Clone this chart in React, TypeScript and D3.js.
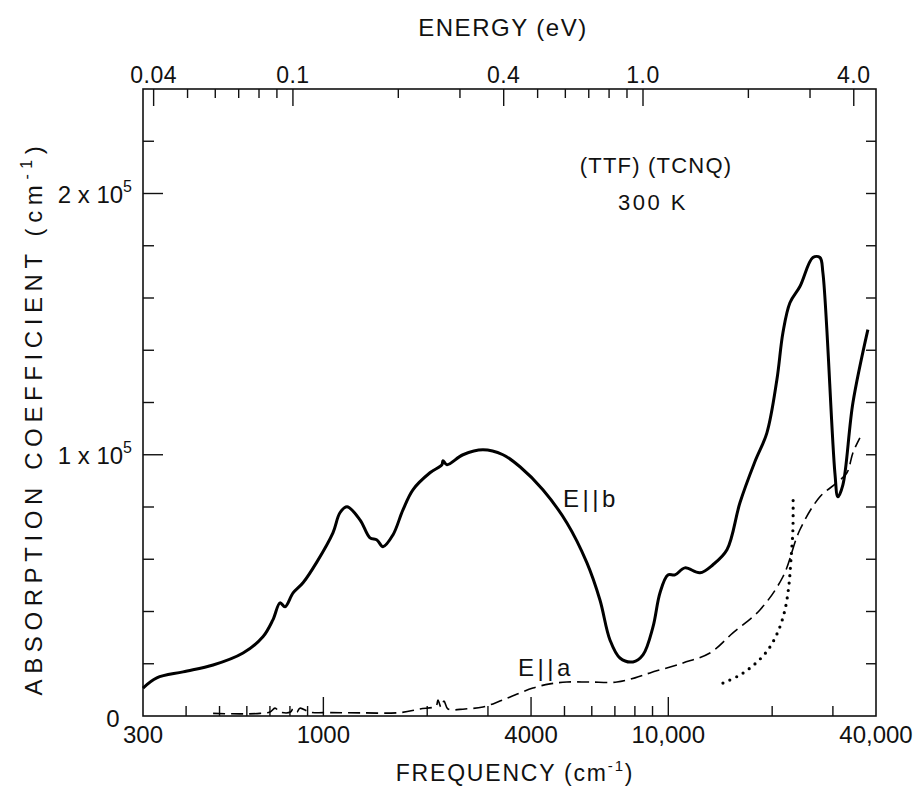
import React from "react";
import * as d3 from "d3";

// E||b absorption (solid), frequency in cm^-1, alpha in cm^-1
const ebFreq = [300, 329, 392, 479, 585, 668, 714, 749, 774, 817, 873, 958, 1066, 1117, 1171, 1277, 1365, 1430, 1489, 1591, 1701, 1818, 2037, 2207, 2222, 2282, 2539, 2902, 3316, 3715, 4329, 5083, 5809, 6336, 6774, 7240, 7898, 8443, 9027, 9456, 9972, 10450, 11170, 12350, 13470, 14790, 16130, 17820, 19310, 20640, 21490, 22520, 24070, 26250, 27510, 28060, 30400, 31020, 32070, 34290, 37890];
const ebAlpha = [10700, 14600, 16900, 19500, 24100, 30300, 36800, 43300, 41800, 47100, 51000, 59000, 70100, 77800, 80100, 75100, 68200, 67400, 64800, 69300, 78900, 86600, 93100, 96200, 97700, 96200, 100000, 101900, 100000, 95400, 86600, 73900, 58600, 44400, 29100, 22200, 20700, 23400, 34100, 47100, 54000, 54000, 56700, 54800, 57900, 63600, 81600, 97300, 108400, 128700, 146700, 158200, 164400, 175500, 175500, 169700, 93100, 83900, 88500, 119900, 147900];

// E||a absorption (dashed)
const eaFreq = [479, 573, 655, 700, 724, 749, 803, 817, 838, 855, 913, 1048, 1277, 1667, 1906, 2121, 2149, 2192, 2237, 2297, 2573, 2902, 3249, 3591, 4050, 4537, 5083, 5924, 7095, 8005, 8848, 11030, 13200, 15390, 18430, 21490, 24070, 27510, 30810, 32950, 34290, 35920];
const eaAlpha = [1000, 800, 1000, 1500, 3000, 1500, 1500, 2800, 1500, 3000, 1500, 1300, 1200, 1300, 2700, 3800, 6100, 3400, 5700, 2700, 2700, 3450, 5700, 8000, 10700, 12300, 13000, 13000, 13000, 14600, 16500, 20300, 24100, 31800, 40600, 53300, 71300, 83900, 89300, 93100, 100800, 106500];

// dotted curve
const dotFreq = [14400, 16130, 17820, 19440, 20780, 21780, 22370, 22670, 22970, 23000];
const dotAlpha = [12600, 15700, 19900, 25300, 32200, 40600, 50200, 59800, 71300, 84700];

// axis ticks
const freqMajor = [1000, 4000, 10000];
const freqMinor = [400, 500, 600, 700, 800, 900, 2000, 3000, 5000, 6000, 7000, 8000, 9000, 20000, 30000];
const freqLabels = ["300", "1000", "4000", "10,000", "40,000"];
const freqLabelVals = [300, 1000, 4000, 10000, 40000];
const energyMajor = [0.04, 0.1, 0.4, 1.0, 4.0];
const energyLabels = ["0.04", "0.1", "0.4", "1.0", "4.0"];
const energyMinor = [0.05, 0.06, 0.07, 0.08, 0.09, 0.2, 0.3, 0.5, 0.6, 0.7, 0.8, 0.9, 2, 3];
const alphaMajor = [100000, 200000];
const alphaMajorLabels = ["1", "2"];
const alphaMinor = [20000, 40000, 60000, 80000, 120000, 140000, 160000, 180000, 220000];

const W = 916;
const H = 790;
const FONT = "'Liberation Sans', Arial, sans-serif";

export default function App() {
  const ref = React.useRef<SVGSVGElement>(null);

  React.useEffect(() => {
    const svg = d3.select(ref.current);
    svg.selectAll("*").remove();

    const left = 143, right = 876, top = 89, bottom = 716;
    const x = d3.scaleLog().domain([300, 40000]).range([left, right]);
    const xTop = d3.scaleLog().domain([0.0373, 4.63]).range([left, right]);
    const y = d3.scaleLinear().domain([0, 240000]).range([bottom, top]);

    svg.append("rect").attr("width", W).attr("height", H).attr("fill", "#fff");

    // frame
    svg.append("rect")
      .attr("x", left).attr("y", top)
      .attr("width", right - left).attr("height", bottom - top)
      .attr("fill", "none").attr("stroke", "#111").attr("stroke-width", 1.6);

    const g = svg.append("g").attr("stroke", "#111").attr("stroke-width", 1.4);

    // bottom ticks
    freqMajor.forEach(v => {
      g.append("line").attr("x1", x(v)).attr("x2", x(v)).attr("y1", bottom).attr("y2", bottom - 19);
    });
    freqMinor.forEach(v => {
      g.append("line").attr("x1", x(v)).attr("x2", x(v)).attr("y1", bottom).attr("y2", bottom - 10);
    });
    // top ticks
    energyMajor.forEach(v => {
      g.append("line").attr("x1", xTop(v)).attr("x2", xTop(v)).attr("y1", top).attr("y2", top + 17);
    });
    energyMinor.forEach(v => {
      g.append("line").attr("x1", xTop(v)).attr("x2", xTop(v)).attr("y1", top).attr("y2", top + 9);
    });
    // left ticks
    alphaMajor.forEach(v => {
      g.append("line").attr("x1", left).attr("x2", left + 20).attr("y1", y(v)).attr("y2", y(v));
    });
    alphaMinor.forEach(v => {
      g.append("line").attr("x1", left).attr("x2", left + 11).attr("y1", y(v)).attr("y2", y(v));
    });
    // right ticks
    [...alphaMinor, ...alphaMajor].forEach(v => {
      g.append("line").attr("x1", right).attr("x2", right - 10).attr("y1", y(v)).attr("y2", y(v));
    });

    const text = (tx: number, ty: number, s: string, size: number, anchor = "middle", spacing = 0) =>
      svg.append("text")
        .attr("x", tx).attr("y", ty)
        .attr("text-anchor", anchor)
        .attr("font-family", FONT)
        .attr("font-size", size)
        .attr("letter-spacing", spacing)
        .attr("fill", "#111")
        .text(s);

    // tick labels
    freqLabelVals.forEach((v, i) => text(x(v), 743, freqLabels[i], 24, "middle", 0));
    energyMajor.forEach((v, i) => text(xTop(v), 83, energyLabels[i], 23, "middle", 0.5));
    alphaMajor.forEach((v, i) => {
      const t = svg.append("text")
        .attr("x", 132).attr("y", y(v) + 9)
        .attr("text-anchor", "end")
        .attr("font-family", FONT)
        .attr("font-size", 24)
        .attr("fill", "#111");
      t.append("tspan").text(`${alphaMajorLabels[i]} x 10`);
      t.append("tspan").attr("dy", -11).attr("font-size", 16).text("5");
    });
    text(113, y(0) + 11, "0", 24);

    // axis titles
    text(503, 36, "ENERGY (eV)", 24, "middle", 1.5);
    const xt = svg.append("text")
      .attr("x", 515).attr("y", 781)
      .attr("text-anchor", "middle")
      .attr("font-family", FONT).attr("font-size", 23)
      .attr("letter-spacing", 1.8).attr("fill", "#111");
    xt.append("tspan").text("FREQUENCY  (cm");
    xt.append("tspan").attr("dy", -10).attr("font-size", 15).text("-1");
    xt.append("tspan").attr("dy", 10).text(")");

    const yt = svg.append("text")
      .attr("transform", `translate(42, 418) rotate(-90)`)
      .attr("text-anchor", "middle")
      .attr("font-family", FONT).attr("font-size", 24)
      .attr("letter-spacing", 5.6).attr("fill", "#111");
    yt.append("tspan").text("ABSORPTION  COEFFICIENT (cm");
    yt.append("tspan").attr("dy", -10).attr("font-size", 16).text("-1");
    yt.append("tspan").attr("dy", 10).text(")");

    // annotations
    text(656, 173, "(TTF) (TCNQ)", 22, "middle", 1.2);
    text(653, 210, "300 K", 22, "middle", 2.5);
    text(591, 507, "E||b", 24, "middle", 3.5);
    text(546, 676, "E||a", 24, "middle", 3.5);

    const line = d3.line<[number, number]>()
      .x(d => x(d[0]))
      .y(d => y(d[1]))
      .curve(d3.curveCatmullRom.alpha(0.5));

    svg.append("path")
      .attr("d", line(ebFreq.map((f, i) => [f, ebAlpha[i]] as [number, number])))
      .attr("fill", "none").attr("stroke", "#000").attr("stroke-width", 3)
      .attr("stroke-linejoin", "round");

    svg.append("path")
      .attr("d", line(eaFreq.map((f, i) => [f, eaAlpha[i]] as [number, number])))
      .attr("fill", "none").attr("stroke", "#000").attr("stroke-width", 1.6)
      .attr("stroke-dasharray", "12 6");

    svg.append("path")
      .attr("d", line(dotFreq.map((f, i) => [f, dotAlpha[i]] as [number, number])))
      .attr("fill", "none").attr("stroke", "#000").attr("stroke-width", 3.2)
      .attr("stroke-linecap", "round")
      .attr("stroke-dasharray", "0 7.5");
  }, []);

  return (
    <svg
      ref={ref}
      width={W}
      height={H}
      style={{ position: "absolute", left: 0, top: 0, display: "block" }}
    />
  );
}
